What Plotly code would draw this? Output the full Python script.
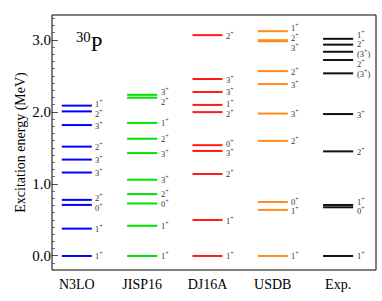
import plotly.graph_objects as go

models = ["N3LO", "JISP16", "DJ16A", "USDB", "Exp."]
colors = ["#0000ff", "#00e000", "#ff1a1a", "#ff8c1a", "#111111"]

n3lo_e = [0.0, 0.38, 0.71, 0.78, 1.16, 1.34, 1.52, 1.82, 2.01, 2.09]
n3lo_j = ["1+", "1+", "0+", "2+", "3+", "3+", "2+", "3+", "2+", "1+"]
jisp_e = [0.0, 0.42, 0.73, 0.86, 1.06, 1.43, 1.63, 1.85, 2.20, 2.24]
jisp_j = ["1+", "1+", "0+", "2+", "3+", "3+", "2+", "1+", "2+", "3+"]
dj_e = [0.0, 0.50, 1.14, 1.46, 1.54, 2.00, 2.10, 2.28, 2.46, 3.07]
dj_j = ["1+", "1+", "2+", "3+", "0+", "2+", "1+", "3+", "3+", "2+"]
usdb_e = [0.0, 0.64, 0.75, 1.60, 1.98, 2.39, 2.57, 2.985, 3.00, 3.125]
usdb_j = ["1+", "1+", "0+", "2+", "3+", "3+", "2+", "3+", "2+", "1+"]
exp_e = [0.0, 0.677, 0.709, 1.454, 1.973, 2.539, 2.724, 2.839, 2.938, 3.019]
exp_j = ["1+", "0+", "1+", "2+", "3+", "(3+)", "2+", "(3+)", "2+", "1+"]

energies = [n3lo_e, jisp_e, dj_e, usdb_e, exp_e]
spins = [n3lo_j, jisp_j, dj_j, usdb_j, exp_j]

HALF = 0.23
LABEL_DX = 0.27
MIN_GAP = 0.135
SERIF = "Liberation Serif"


def spread(vals, d):
    order = sorted(range(len(vals)), key=lambda k: vals[k])
    clusters = []
    for k in order:
        clusters.append([[k], vals[k]])
        while len(clusters) > 1:
            a, b = clusters[-2], clusters[-1]
            if a[1] + d * len(a[0]) > b[1] + 1e-9:
                mem = a[0] + b[0]
                mean = sum(vals[m] - d * i for i, m in enumerate(mem)) / len(mem)
                clusters[-2:] = [[mem, mean]]
            else:
                break
    out = [0.0] * len(vals)
    for mem, start in clusters:
        for i, m in enumerate(mem):
            out[m] = start + d * i
    return out


def fmt(s):
    return s.replace("+", "<sup>+</sup>")


fig = go.Figure()
annotations = []
for i, (es, js, c) in enumerate(zip(energies, spins, colors)):
    xs, ys = [], []
    for e in es:
        xs += [i - HALF, i + HALF, None]
        ys += [e, e, None]
    fig.add_trace(go.Scatter(x=xs, y=ys, mode="lines",
                             line=dict(color=c, width=2), showlegend=False,
                             hoverinfo="skip"))
    ly = spread(es, MIN_GAP)
    for y, j in zip(ly, js):
        annotations.append(dict(x=i + LABEL_DX, y=y, text=fmt(j), showarrow=False,
                                xanchor="left", yanchor="middle", borderpad=0,
                                font=dict(family=SERIF, size=8.5, color="#333333")))

annotations.append(dict(x=0.18, y=2.97, text="<sup>30</sup>P", showarrow=False,
                        xanchor="center", yanchor="middle",
                        font=dict(family=SERIF, size=21, color="#000000")))

fig.update_layout(
    width=382, height=301,
    margin=dict(l=52, r=6, t=15, b=31),
    paper_bgcolor="white", plot_bgcolor="white",
    annotations=annotations,
    font=dict(family=SERIF, color="#000000"),
    shapes=[dict(type="rect", xref="paper", yref="paper", x0=0, x1=1, y0=0, y1=1,
                 line=dict(color="#000000", width=1), layer="above")],
)
fig.update_xaxes(
    range=[-0.38, 4.58], tickvals=list(range(len(models))), ticktext=models,
    ticks="", showgrid=False, zeroline=False, showline=False,
    tickfont=dict(family=SERIF, size=14), ticklabelstandoff=4,
)
fig.update_yaxes(
    range=[-0.195, 3.35], tickvals=[0, 1, 2, 3], tickformat=".1f",
    ticks="inside", ticklen=6, tickcolor="#555555",
    minor=dict(dtick=0.1, ticks="inside", ticklen=3, tickcolor="#777777", showgrid=False),
    showgrid=False, zeroline=False, showline=False,
    tickfont=dict(family=SERIF, size=15),
    title=dict(text="Excitation energy (MeV)", font=dict(family=SERIF, size=14), standoff=3),
)

fig.write_html("out.html", config={"displayModeBar": False},
               post_script="document.body.style.margin='0';")
